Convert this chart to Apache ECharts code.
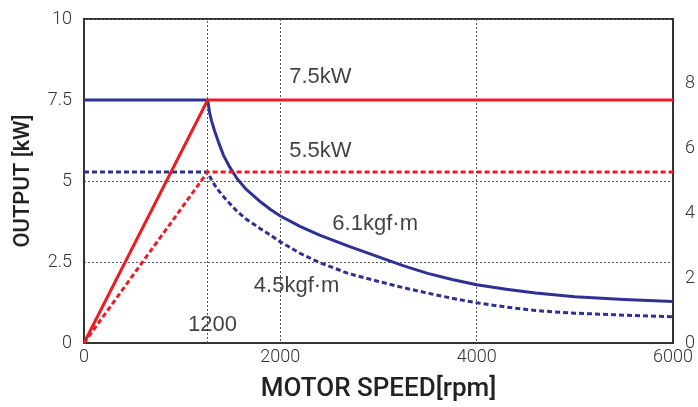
<!DOCTYPE html>
<html>
<head>
<meta charset="utf-8">
<script src="https://cdn.jsdelivr.net/npm/echarts@6/dist/echarts.min.js"></script>
<style>
  html, body { margin: 0; padding: 0; background: #fff; }
  #chart { width: 698px; height: 407px; }
</style>
</head>
<body>
<div id="chart"></div>
<script>
// output curves (kW) vs motor speed (rpm)
const outputRpm = [0, 1260, 6000];
const output75 = [0, 7.5, 7.5];
const output55 = [0, 5.28, 5.28];

// torque curves, drawn on the output scale
const torqueRpm = [0, 1260, 1280, 1300, 1330, 1370, 1420, 1480, 1560, 1650, 1800, 1900, 2000, 2200, 2400, 2700, 3000, 3250, 3500, 3750, 4000, 4300, 4600, 5000, 5500, 6000];
const torque61 = [7.5, 7.5, 7.1, 6.85, 6.55, 6.2, 5.8, 5.45, 5.07, 4.75, 4.35, 4.12, 3.92, 3.6, 3.33, 2.98, 2.66, 2.39, 2.15, 1.96, 1.8, 1.66, 1.54, 1.43, 1.34, 1.28];
const torque45 = [5.28, 5.28, 5.15, 5.03, 4.88, 4.71, 4.52, 4.32, 4.06, 3.83, 3.52, 3.33, 3.12, 2.77, 2.48, 2.14, 1.9, 1.71, 1.54, 1.38, 1.24, 1.11, 1.0, 0.92, 0.86, 0.81];

const baseSpeedLine = 1260;
const notes = ["7.5kW", "5.5kW", "6.1kgf·m", "4.5kgf·m", "1200"];
const noteRpm = [2090, 2090, 2530, 1730, 1060];
const noteVal = [8.2, 5.93, 3.69, 1.75, 0.55];

const RED = "#ed1c24";
const BLUE = "#2e3192";
const FONT = "Liberation Sans";

const zip = (xs, ys) => xs.map((x, i) => [x, ys[i]]);

const chart = echarts.init(document.getElementById("chart"));

const gridLine = { show: true, lineStyle: { color: "#555", width: 1, type: [2, 2] } };
const tickText = { color: "#333", fontSize: 18, fontFamily: "Roboto", fontWeight: 300 };
const titleText = { color: "#222", fontFamily: "Roboto", fontWeight: 500 };

chart.setOption({
    animation: false,
    grid: { left: 84, right: 20, top: 19, bottom: 62, show: true, borderColor: "#333", borderWidth: 2 },
    xAxis: {
        type: "value", min: 0, max: 6000, interval: 2000,
        name: "MOTOR SPEED[rpm]", nameLocation: "middle", nameGap: 33,
        nameTextStyle: Object.assign({ fontSize: 26 }, titleText),
        axisLine: { lineStyle: { color: "#333", width: 2 } },
        axisTick: { show: false },
        axisLabel: Object.assign({ margin: 5, formatter: v => String(v) }, tickText),
        splitLine: gridLine
    },
    yAxis: [{
        type: "value", min: 0, max: 10, interval: 2.5,
        name: "OUTPUT [kW]", nameLocation: "middle", nameGap: 50,
        nameTextStyle: Object.assign({ fontSize: 22 }, titleText),
        axisLine: { show: true, lineStyle: { color: "#333", width: 2 } },
        axisTick: { show: false },
        axisLabel: Object.assign({ margin: 12 }, tickText),
        splitLine: gridLine
    }, {
        type: "value", min: 0, max: 10, interval: 2, position: "right",
        axisLine: { show: true, lineStyle: { color: "#333", width: 2 } },
        axisTick: { show: false },
        axisLabel: Object.assign({ margin: 12, showMaxLabel: false, padding: [0, 0, 16, 0] }, tickText),
        splitLine: { show: false }
    }],
    series: [{
        type: "line", data: zip(torqueRpm, torque61), symbol: "none",
        lineStyle: { color: BLUE, width: 3, join: "round" }, z: 3,
        markLine: {
            silent: true, symbol: "none", label: { show: false },
            lineStyle: { color: "#555", width: 1, type: [2, 2] },
            data: [{ xAxis: baseSpeedLine }]
        }
    }, {
        type: "line", data: zip(torqueRpm, torque45), symbol: "none",
        lineStyle: { color: BLUE, width: 3, type: [5, 3] }, z: 3
    }, {
        type: "line", data: zip(outputRpm, output75), symbol: "none",
        lineStyle: { color: RED, width: 3 }, z: 4
    }, {
        type: "line", data: zip(outputRpm, output55), symbol: "none",
        lineStyle: { color: RED, width: 3, type: [5, 3] }, z: 4
    }, {
        type: "scatter", symbolSize: 0, silent: true,
        data: notes.map((t, i) => ({ value: [noteRpm[i], noteVal[i]], name: t })),
        label: {
            show: true, position: "inside", align: "left", verticalAlign: "middle",
            formatter: p => p.name,
            color: "#111", fontSize: 22, fontFamily: FONT
        },
        z: 5
    }]
});
</script>
</body>
</html>
